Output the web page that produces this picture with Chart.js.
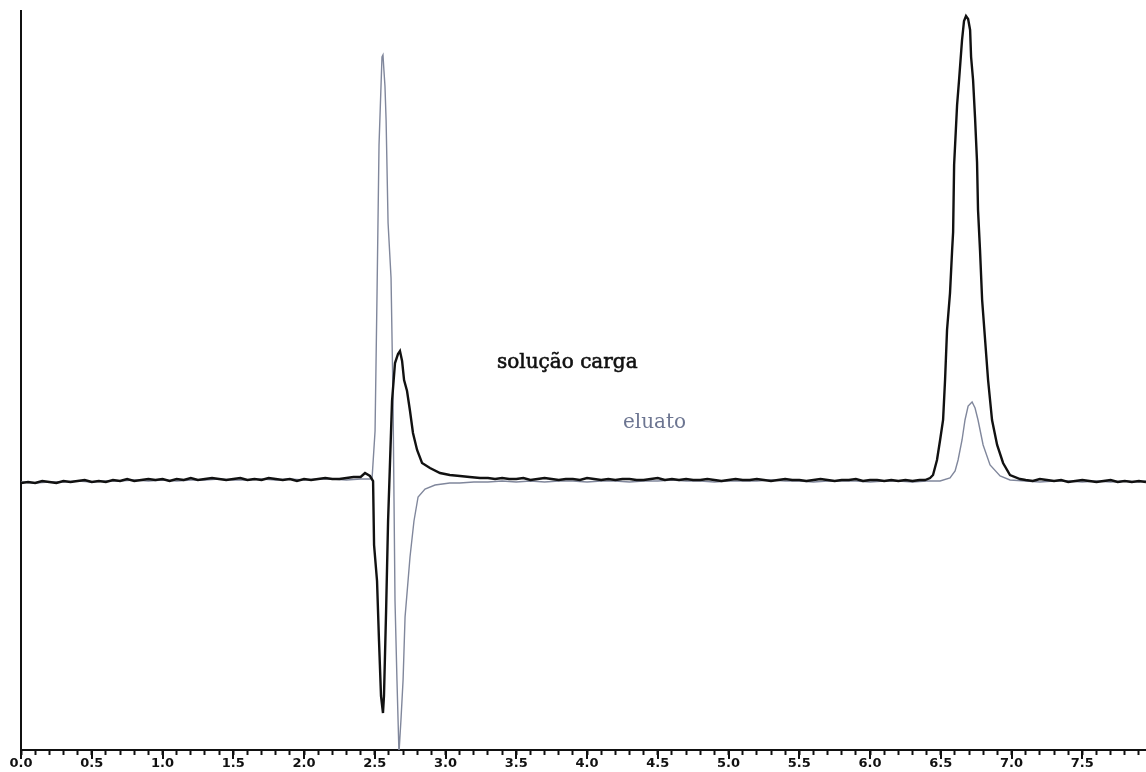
<!DOCTYPE html>
<html>
<head>
<meta charset="utf-8">
<script src="https://cdn.jsdelivr.net/npm/chart.js@4.4.1/dist/chart.umd.min.js"></script>
<style>
  html, body { margin: 0; padding: 0; background: #fff; }
  #chart { display: block; }
</style>
</head>
<body>
<canvas id="chart" width="1146" height="772"></canvas>
<script>
// retention time (min) and detector signal
const cargaTime = [
  0, 0.05, 0.1, 0.15, 0.2, 0.25, 0.3, 0.35, 0.4, 0.45,
  0.5, 0.55, 0.6, 0.65, 0.7, 0.75, 0.8, 0.85, 0.9, 0.95,
  1.0, 1.05, 1.1, 1.15, 1.2, 1.25, 1.3, 1.35, 1.4, 1.45,
  1.5, 1.55, 1.6, 1.65, 1.7, 1.75, 1.8, 1.85, 1.9, 1.95,
  2.0, 2.05, 2.1, 2.15, 2.2, 2.25, 2.3, 2.35, 2.4,
  2.431, 2.466, 2.488, 2.495, 2.516, 2.530, 2.544, 2.558, 2.565, 2.580,
  2.594, 2.608, 2.622, 2.643, 2.664, 2.678, 2.693, 2.707, 2.728, 2.749,
  2.770, 2.799, 2.834, 2.890, 2.961, 3.030, 3.102, 3.170, 3.244,
  3.3, 3.35, 3.4, 3.45, 3.5, 3.55, 3.6, 3.65, 3.7, 3.75,
  3.8, 3.85, 3.9, 3.95, 4.0, 4.05, 4.1, 4.15, 4.2, 4.25,
  4.3, 4.35, 4.4, 4.45, 4.5, 4.55, 4.6, 4.65, 4.7, 4.75,
  4.8, 4.85, 4.9, 4.95, 5.0, 5.05, 5.1, 5.15, 5.2, 5.25,
  5.3, 5.35, 5.4, 5.45, 5.5, 5.55, 5.6, 5.65, 5.7, 5.75,
  5.8, 5.85, 5.9, 5.95, 6.0, 6.05, 6.1, 6.15, 6.2, 6.25,
  6.3, 6.35,
  6.389, 6.424, 6.445, 6.473, 6.495, 6.516, 6.530, 6.544, 6.565, 6.580,
  6.587, 6.594, 6.615, 6.629, 6.650, 6.664, 6.678, 6.693, 6.707, 6.714,
  6.728, 6.742, 6.756, 6.763, 6.777, 6.792, 6.813, 6.834, 6.862, 6.898,
  6.940, 6.989, 7.060,
  7.1, 7.15, 7.2, 7.25, 7.3, 7.35, 7.4, 7.45, 7.5, 7.55,
  7.6, 7.65, 7.7, 7.75, 7.8, 7.85, 7.9, 7.95
];
const cargaSignal = [
  -2, -1, -2, 0, -1, -2, 0, -1, 0, 1,
  -1, 0, -1, 1, 0, 2, 0, 1, 2, 1,
  2, 0, 2, 1, 3, 1, 2, 3, 2, 1,
  2, 3, 1, 2, 1, 3, 2, 1, 2, 0,
  2, 1, 2, 3, 2, 2, 3, 4, 4,
  8, 5, 0, -64, -100, -160, -215, -232, -215, -130,
  -40, 20, 80, 118, 127, 130, 120, 101, 90, 70,
  48, 31, 18, 13, 8, 6, 5, 4, 3,
  3, 2, 3, 2, 2, 3, 1, 2, 3, 2,
  1, 2, 2, 1, 3, 2, 1, 2, 1, 2,
  2, 1, 1, 2, 3, 1, 2, 1, 2, 1,
  1, 2, 1, 0, 1, 2, 1, 1, 2, 1,
  0, 1, 2, 1, 1, 0, 1, 2, 1, 0,
  1, 1, 2, 0, 1, 1, 0, 1, 0, 1,
  0, 1,
  1, 3, 6, 21, 41, 61, 101, 151, 188, 231,
  249, 316, 376, 401, 441, 460, 465, 462, 451, 424,
  401, 363, 319, 271, 231, 181, 141, 101, 61, 36,
  18, 6, 2,
  1, 0, 2, 1, 0, 1, -1, 0, 1, 0,
  -1, 0, 1, -1, 0, -1, 0, -1
];

const eluatoTime = [
  0, 0.1, 0.2, 0.3, 0.4, 0.5, 0.6, 0.7, 0.8, 0.9,
  1.0, 1.1, 1.2, 1.3, 1.4, 1.5, 1.6, 1.7, 1.8, 1.9,
  2.0, 2.1, 2.2, 2.3, 2.4,
  2.466, 2.481, 2.502, 2.516, 2.530, 2.551, 2.558, 2.565, 2.572, 2.580,
  2.594, 2.615, 2.629, 2.636, 2.643, 2.657, 2.671, 2.685, 2.700, 2.714,
  2.735, 2.749, 2.777, 2.806, 2.855, 2.926, 3.030,
  3.1, 3.2, 3.3, 3.4, 3.5, 3.6, 3.7, 3.8, 3.9, 4.0,
  4.1, 4.2, 4.3, 4.4, 4.5, 4.6, 4.7, 4.8, 4.9, 5.0,
  5.1, 5.2, 5.3, 5.4, 5.5, 5.6, 5.7, 5.8, 5.9, 6.0,
  6.1, 6.2, 6.3, 6.4,
  6.495, 6.565, 6.601, 6.622, 6.650, 6.671, 6.693, 6.721, 6.742, 6.763,
  6.799, 6.848, 6.919, 6.989,
  7.1, 7.2, 7.3, 7.4, 7.5, 7.6, 7.7, 7.8, 7.9, 7.95
];
const eluatoSignal = [
  -1, -2, -1, -1, 0, -1, 0, 0, 1, 0,
  1, 0, 1, 1, 2, 1, 1, 2, 1, 2,
  1, 2, 2, 1, 2,
  2, 3, 50, 188, 336, 424, 426, 410, 395, 361,
  258, 203, 81, -20, -120, -200, -272, -239, -199, -136,
  -100, -76, -40, -16, -8, -4, -2,
  -2, -1, -1, 0, -1, 0, -1, 0, 0, -1,
  0, 0, -1, 0, 0, 1, 0, 0, -1, 0,
  0, 0, 1, 0, 0, -1, 0, 0, 0, -1,
  0, 0, -1, 0,
  0, 3, 10, 21, 41, 61, 75, 79, 73, 61,
  36, 16, 5, 1,
  0, -1, 0, 0, -1, 0, -1, 0, -1, 0
];

const xMajorTicks = [0, 0.5, 1, 1.5, 2, 2.5, 3, 3.5, 4, 4.5, 5, 5.5, 6, 6.5, 7, 7.5];
const xTickLabels = ["0.0", "0.5", "1.0", "1.5", "2.0", "2.5", "3.0", "3.5",
                     "4.0", "4.5", "5.0", "5.5", "6.0", "6.5", "7.0", "7.5"];

const xMinorTicks = [];
for (let i = 0; i <= 79; i++) xMinorTicks.push(i / 10);

const traceLabels = [
  { text: "solução carga", x: 3.364, y: 113, color: "#111111", font: "20px 'DejaVu Serif'", stroke: 0.6 },
  { text: "eluato", x: 4.254, y: 53, color: "#6c7591", font: "20px 'DejaVu Serif'", stroke: 0 }
];

function toPoints(xs, ys) {
  return xs.map((x, i) => ({ x: x, y: ys[i] }));
}

// longer marks at every 0.5 min, plus the two trace names
const extras = {
  id: "extras",
  afterDraw(chart) {
    const ctx = chart.ctx;
    const xs = chart.scales.x;
    const ys = chart.scales.y;
    ctx.save();
    ctx.strokeStyle = "#111";
    ctx.lineWidth = 2;
    xMajorTicks.forEach((v) => {
      const px = Math.round(xs.getPixelForValue(v));
      ctx.beginPath();
      ctx.moveTo(px, xs.top);
      ctx.lineTo(px, xs.top + 9);
      ctx.stroke();
    });
    traceLabels.forEach((l) => {
      ctx.font = l.font;
      ctx.fillStyle = l.color;
      ctx.textAlign = "left";
      ctx.textBaseline = "alphabetic";
      const px = xs.getPixelForValue(l.x);
      const py = ys.getPixelForValue(l.y);
      ctx.fillText(l.text, px, py);
      if (l.stroke) {
        ctx.strokeStyle = l.color;
        ctx.lineWidth = l.stroke;
        ctx.strokeText(l.text, px, py);
      }
    });
    ctx.restore();
  }
};

new Chart(document.getElementById("chart").getContext("2d"), {
  type: "line",
  data: {
    datasets: [
      {
        label: "solução carga",
        data: toPoints(cargaTime, cargaSignal),
        borderColor: "#111111",
        borderWidth: 2.4,
        pointRadius: 0,
        tension: 0,
        fill: false
      },
      {
        label: "eluato",
        data: toPoints(eluatoTime, eluatoSignal),
        borderColor: "#80879c",
        borderWidth: 1.4,
        pointRadius: 0,
        tension: 0,
        fill: false
      }
    ]
  },
  options: {
    responsive: false,
    animation: false,
    devicePixelRatio: 1,
    layout: { padding: { left: 13, top: 11, right: 0, bottom: 0 } },
    plugins: {
      legend: { display: false },
      tooltip: { enabled: false }
    },
    scales: {
      x: {
        type: "linear",
        min: 0,
        max: 7.95,
        afterBuildTicks: (scale) => {
          scale.ticks = xMinorTicks.map((v) => ({ value: v }));
        },
        grid: {
          display: true,
          drawOnChartArea: false,
          drawTicks: true,
          tickLength: 5,
          tickColor: "#111",
          tickWidth: 2
        },
        border: { display: true, color: "#111", width: 2 },
        ticks: {
          autoSkip: false,
          maxRotation: 0,
          padding: 2,
          color: "#111",
          font: { family: "'DejaVu Sans'", size: 13, weight: "bold", lineHeight: 1 },
          callback: (value) => {
            const i = xMajorTicks.findIndex((m) => Math.abs(m - value) < 1e-6);
            return i >= 0 ? xTickLabels[i] : "";
          }
        }
      },
      y: {
        type: "linear",
        min: -269,
        max: 470,
        grid: { display: false },
        border: { display: true, color: "#111", width: 2 },
        ticks: { display: false }
      }
    }
  },
  plugins: [extras]
});
</script>
</body>
</html>
